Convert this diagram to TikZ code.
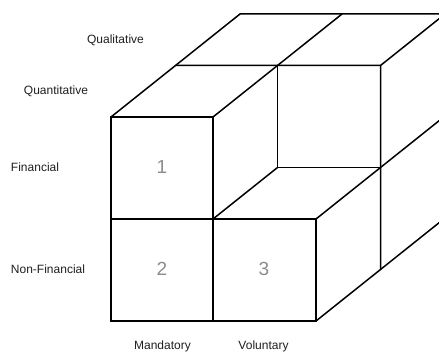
\documentclass[tikz,border=0pt]{standalone}
\usepackage{fontspec}
\setmainfont{Liberation Sans}
\begin{document}
\begin{tikzpicture}[x=1pt,y=-1pt,
  edge/.style={line width=1.5pt,line join=miter,line cap=round},
  axislabel/.style={font=\fontsize{12}{13}\selectfont,text=black!88,inner sep=0pt},
  cellnum/.style={font=\fontsize{19}{20}\selectfont,text=black!45,inner sep=0pt}]
\useasboundingbox (0,0) rectangle (439,353);
\clip (0,0) rectangle (439,353);
% front layer grid points
\coordinate (A0) at (111,117);
\coordinate (A1) at (213,117);
\coordinate (B0) at (111,219);
\coordinate (B1) at (213,219);
\coordinate (B2) at (316,219);
\coordinate (C0) at (111,321);
\coordinate (C1) at (213,321);
\coordinate (C2) at (316,321);
% second layer (depth 1)
\coordinate (D0) at (175.5,65.5);
\coordinate (D1) at (277.5,65.5);
\coordinate (D2) at (380.5,65.5);
\coordinate (E1) at (277.5,167.5);
\coordinate (E2) at (380.5,167.5);
\coordinate (F2) at (380.5,269.5);
% back layer (depth 2)
\coordinate (G0) at (240,14);
\coordinate (G1) at (342,14);
\coordinate (G2) at (445,14);
\coordinate (H2) at (445,116);
\coordinate (I2) at (445,218);
% front faces of cubes 1, 2, 3
\draw[edge] (A0) rectangle (B1);
\draw[edge] (B0) rectangle (C1);
\draw[edge] (B1) rectangle (C2);
% front face of the recessed cube
\draw[edge] (D1) rectangle (E2);
% top surface
\draw[edge] (A0) -- (G0) -- (G2);
\draw[edge] (A1) -- (G1);
\draw[edge] (D0) -- (D2) -- (G2);
% top of cube 3
\draw[edge] (B1) -- (E1);
\draw[edge] (B2) -- (E2);
% right side
\draw[edge] (D2) -- (F2) -- (C2);
\draw[edge] (E2) -- (H2);
\draw[edge] (F2) -- (I2);
% cell numbers
\node[cellnum] (n1) at (162,167) {1};
\node[cellnum] (n2) at (162,269) {2};
\node[cellnum] (n3) at (264,269) {3};
% axis labels
\node[axislabel] (qual) at (115.5,40) {Qualitative};
\node[axislabel] (quant) at (56,91) {Quantitative};
\node[axislabel] (fin) at (35,167) {Financial};
\node[axislabel] (nonfin) at (48,269) {Non-Financial};
\node[axislabel] (mand) at (162.5,346) {Mandatory};
\node[axislabel] (vol) at (263.5,346) {Voluntary};
\end{tikzpicture}
\end{document}
